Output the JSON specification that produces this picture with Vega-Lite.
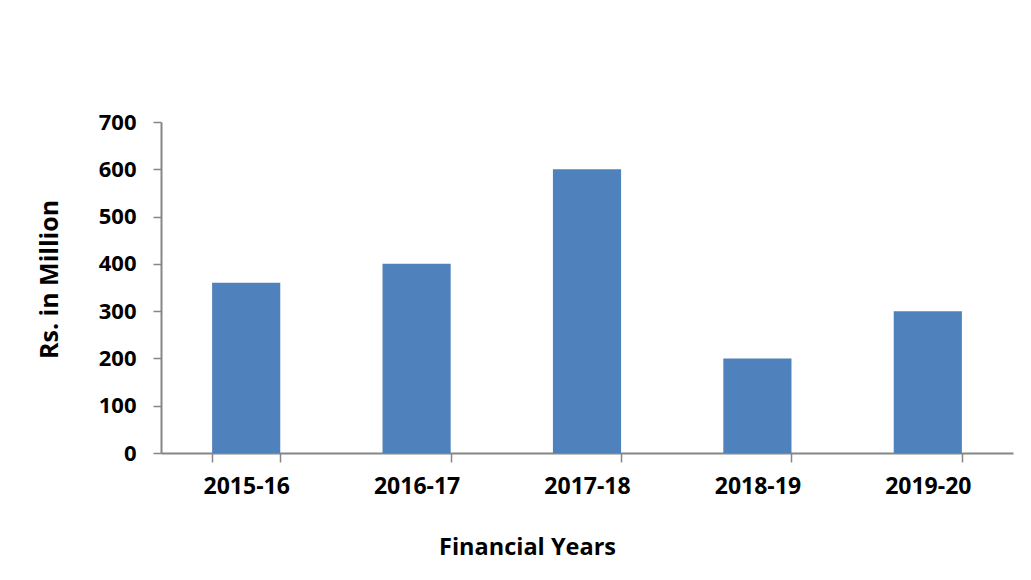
{
  "$schema": "https://vega.github.io/schema/vega-lite/v6.json",
  "width": 852,
  "height": 331,
  "autosize": "none",
  "padding": {"left": 161, "top": 122, "right": 18, "bottom": 127},
  "background": "white",
  "data": {
    "values": [
      {"year": "2015-16", "value": 360},
      {"year": "2016-17", "value": 400},
      {"year": "2017-18", "value": 600},
      {"year": "2018-19", "value": 200},
      {"year": "2019-20", "value": 300}
    ]
  },
  "mark": {"type": "bar", "color": "#4F81BD"},
  "encoding": {
    "x": {
      "field": "year",
      "type": "nominal",
      "sort": null,
      "scale": {"paddingInner": 0.6, "paddingOuter": 0.3},
      "axis": {
        "title": "Financial Years",
        "labelAngle": 0,
        "tickBand": "extent",
        "tickSize": 9,
        "tickColor": "#868686",
        "domainColor": "#868686",
        "domainWidth": 2,
        "tickWidth": 1.5,
        "labelFont": "Open Sans",
        "labelFontSize": 23,
        "labelFontWeight": "bold",
        "labelColor": "black",
        "labelPadding": 13,
        "titleFont": "Open Sans",
        "titleFontSize": 23.5,
        "titleFontWeight": "bold",
        "titleColor": "black",
        "titlePadding": 37,
        "titleX": 366
      }
    },
    "y": {
      "field": "value",
      "type": "quantitative",
      "scale": {"domain": [0, 700]},
      "axis": {
        "title": "Rs. in Million",
        "values": [0, 100, 200, 300, 400, 500, 600, 700],
        "grid": false,
        "tickSize": 8,
        "tickColor": "#868686",
        "domainColor": "#868686",
        "domainWidth": 2,
        "tickWidth": 1.5,
        "labelFont": "Open Sans",
        "labelFontSize": 22,
        "labelFontWeight": "bold",
        "labelColor": "black",
        "labelPadding": 17,
        "titleFont": "Open Sans",
        "titleFontSize": 25,
        "titleFontWeight": "bold",
        "titleColor": "black",
        "titlePadding": 36,
        "titleY": 157
      }
    }
  },
  "config": {"view": {"stroke": null}}
}
